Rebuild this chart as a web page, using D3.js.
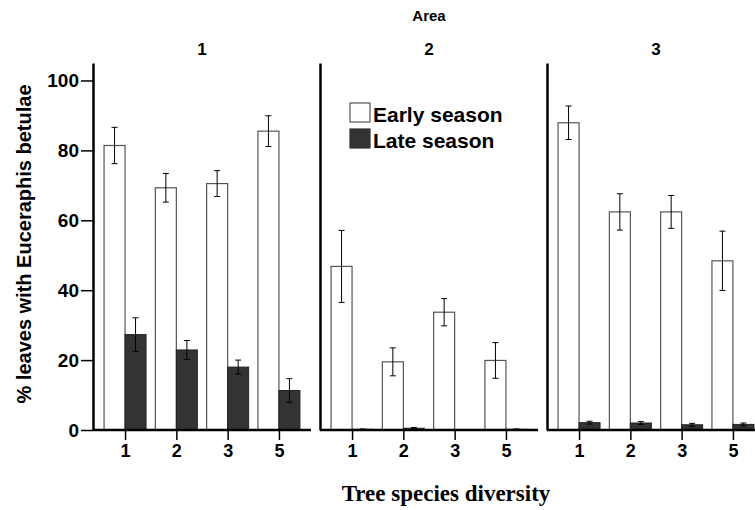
<!DOCTYPE html>
<html>
<head>
<meta charset="utf-8">
<script src="https://cdn.jsdelivr.net/npm/d3@7/dist/d3.min.js"></script>
<style>
  html, body { margin: 0; padding: 0; background: #fff; }
  svg { display: block; }
  text { font-family: "Liberation Sans", Arial, sans-serif; font-weight: bold; fill: #000; }
</style>
</head>
<body>
<svg id="chart" width="755" height="510"></svg>
<script>
// Panels (area) and tree species diversity levels
const areas = ["1", "2", "3"];
const diversity = ["1", "2", "3", "5"];
const yTicks = [0, 20, 40, 60, 80, 100];

// Percent of leaves with Euceraphis betulae, mean and error (±)
const earlyArea1 = [81.4, 69.3, 70.5, 85.5];
const earlyErrArea1 = [5.2, 4.1, 3.7, 4.4];
const lateArea1 = [27.3, 22.9, 18.0, 11.3];
const lateErrArea1 = [4.8, 2.7, 2.0, 3.4];

const earlyArea2 = [46.8, 19.5, 33.7, 19.9];
const earlyErrArea2 = [10.3, 4.0, 3.9, 5.1];
const lateArea2 = [0.2, 0.5, 0.1, 0.2];
const lateErrArea2 = [0.1, 0.2, 0.05, 0.1];

const earlyArea3 = [87.9, 62.4, 62.4, 48.4];
const earlyErrArea3 = [4.8, 5.2, 4.7, 8.5];
const lateArea3 = [2.1, 2.0, 1.5, 1.6];
const lateErrArea3 = [0.4, 0.4, 0.4, 0.4];

const seasons = ["Early season", "Late season"];

const panels = [
  { area: areas[0], early: earlyArea1, earlyErr: earlyErrArea1, late: lateArea1, lateErr: lateErrArea1 },
  { area: areas[1], early: earlyArea2, earlyErr: earlyErrArea2, late: lateArea2, lateErr: lateErrArea2 },
  { area: areas[2], early: earlyArea3, earlyErr: earlyErrArea3, late: lateArea3, lateErr: lateErrArea3 }
];

const svg = d3.select("#chart");

const panelX = d3.scaleBand().domain(areas).range([93, 765]).paddingInner(9 / 227).paddingOuter(0);
const y = d3.scaleLinear().domain([0, 105]).range([430, 63]);
const barW = 21;
const fillColor = d3.scaleOrdinal().domain(seasons).range(["#ffffff", "#333333"]);

// Header
svg.append("text").attr("x", panelX("2") + panelX.bandwidth() / 2).attr("y", 21)
  .attr("text-anchor", "middle").style("font-size", "15px").text("Area");

panels.forEach((p, pi) => {
  const x0 = panelX(p.area);
  const w = panelX.bandwidth();
  const g = svg.append("g");
  const x = d3.scalePoint().domain(diversity).range([x0, x0 + w]).padding(0.625);

  g.append("text").attr("x", x0 + w / 2).attr("y", 55)
    .attr("text-anchor", "middle").style("font-size", "17px").text(p.area);

  const rows = diversity.map((d, i) => ({
    d, early: p.early[i], earlyErr: p.earlyErr[i], late: p.late[i], lateErr: p.lateErr[i]
  }));

  // Early season bars (left of tick), late season bars (right of tick)
  g.selectAll(".early").data(rows).join("rect")
    .attr("x", r => x(r.d) - barW).attr("y", r => y(r.early))
    .attr("width", barW).attr("height", r => y(0) - y(r.early))
    .attr("fill", fillColor(seasons[0])).attr("stroke", "#555").attr("stroke-width", 1.2);
  g.selectAll(".late").data(rows).join("rect")
    .attr("x", r => x(r.d)).attr("y", r => y(r.late))
    .attr("width", barW).attr("height", r => y(0) - y(r.late))
    .attr("fill", fillColor(seasons[1])).attr("stroke", "#222").attr("stroke-width", 1);

  // Error bars
  const errs = [];
  rows.forEach(r => {
    errs.push({ cx: x(r.d) - barW / 2, v: r.early, e: r.earlyErr });
    errs.push({ cx: x(r.d) + barW / 2, v: r.late, e: r.lateErr });
  });
  const eg = g.selectAll(".err").data(errs).join("g").attr("stroke", "#000").attr("stroke-width", 1);
  eg.append("line").attr("x1", e => e.cx).attr("x2", e => e.cx)
    .attr("y1", e => y(e.v + e.e)).attr("y2", e => y(e.v - e.e));
  eg.append("line").attr("x1", e => e.cx - 3).attr("x2", e => e.cx + 3)
    .attr("y1", e => y(e.v + e.e)).attr("y2", e => y(e.v + e.e));
  eg.append("line").attr("x1", e => e.cx - 3).attr("x2", e => e.cx + 3)
    .attr("y1", e => y(e.v - e.e)).attr("y2", e => y(e.v - e.e));

  // X axis
  const xAxis = g.append("g").attr("transform", `translate(0,${y(0)})`)
    .call(d3.axisBottom(x).tickSize(10).tickPadding(4).tickSizeOuter(0));
  xAxis.select(".domain").attr("stroke", "#000").attr("stroke-width", 2.5)
    .attr("d", `M${x0},0H${x0 + w}`);
  xAxis.selectAll(".tick line").attr("stroke", "#000").attr("stroke-width", 1.5);
  xAxis.selectAll(".tick text").style("font-size", "18px")
    .style("font-family", "'Liberation Sans', Arial, sans-serif").style("font-weight", "bold");

  // Y axis (ticks on the first panel only)
  const yAxisGen = d3.axisLeft(y).tickValues(pi === 0 ? yTicks : []).tickSize(12).tickPadding(2).tickSizeOuter(0);
  const yAxis = g.append("g").attr("transform", `translate(${x0},0)`).call(yAxisGen);
  yAxis.select(".domain").attr("stroke", "#000").attr("stroke-width", 2.5);
  yAxis.selectAll(".tick line").attr("stroke", "#000").attr("stroke-width", 1.5);
  yAxis.selectAll(".tick text").style("font-size", "19px")
    .style("font-family", "'Liberation Sans', Arial, sans-serif").style("font-weight", "bold");
});

// Legend
const legend = svg.append("g").attr("transform", "translate(350,103)");
seasons.forEach((s, i) => {
  legend.append("rect").attr("x", 0).attr("y", i * 26).attr("width", 20).attr("height", 19)
    .attr("fill", fillColor(s)).attr("stroke", i === 0 ? "#555" : "#333").attr("stroke-width", 1.2);
  legend.append("text").attr("x", 23).attr("y", i * 26 + 19).style("font-size", "21px").text(s);
});

// Axis titles
svg.append("text").attr("transform", "translate(31,244) rotate(-90)")
  .attr("text-anchor", "middle").style("font-size", "20px").text("% leaves with Euceraphis betulae");
svg.append("text").attr("x", 446).attr("y", 501).attr("text-anchor", "middle")
  .style("font-family", "'Liberation Serif', 'Times New Roman', serif").style("font-size", "23px")
  .text("Tree species diversity");
</script>
</body>
</html>
